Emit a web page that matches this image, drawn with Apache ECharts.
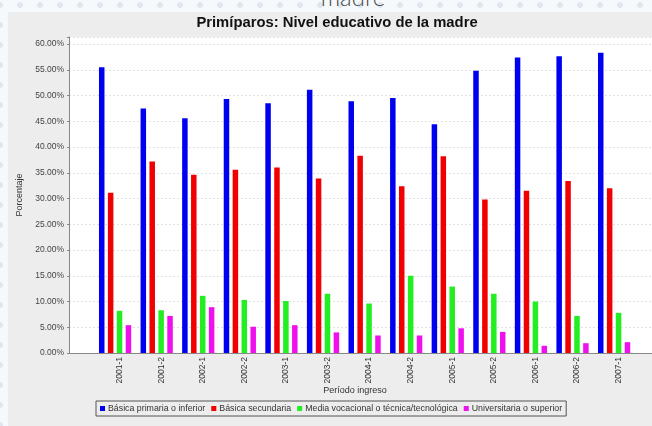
<!DOCTYPE html>
<html>
<head>
<meta charset="utf-8">
<script src="https://cdn.jsdelivr.net/npm/echarts@6/dist/echarts.min.js"></script>
<style>
  html, body { margin: 0; padding: 0; width: 652px; height: 426px; overflow: hidden; }
  body {
    position: relative;
    background-color: #f6f9fb;
    background-image: radial-gradient(circle, #dfe6ee 2.6px, rgba(255,255,255,0) 3.2px);
    background-size: 20px 20px;
    background-position: -10px -5px;
  }
  #heading {
    position: absolute; left: 253px; width: 200px; top: -15px;
    text-align: center; font-family: Lato, 'Open Sans', sans-serif; font-weight: 300;
    font-size: 24px; line-height: 24px; color: #4a4a4a; z-index: 1;
  }
  #panel { position: absolute; left: 8px; top: 12px; width: 700px; height: 430px; background: #ededed; z-index: 2; }
  #chart { position: absolute; left: 0; top: 0; width: 652px; height: 426px; z-index: 3; }
</style>
</head>
<body>
<div id="heading">madre</div>
<div id="panel"></div>
<div id="chart"></div>
<script>
// ---- data ----
const categories = ['2001-1','2001-2','2002-1','2002-2','2003-1','2003-2','2004-1','2004-2','2005-1','2005-2','2006-1','2006-2','2007-1'];
const basicaPrimaria   = [55.5, 47.5, 45.6, 49.3, 48.5, 51.1, 48.9, 49.5, 44.4, 54.8, 57.4, 57.6, 58.3];
const basicaSecundaria = [31.1, 37.2, 34.6, 35.6, 36.0, 33.9, 38.3, 32.4, 38.2, 29.8, 31.5, 33.4, 32.0];
const mediaVocacional  = [8.2, 8.3, 11.1, 10.3, 10.1, 11.5, 9.6, 15.0, 12.9, 11.5, 10.0, 7.2, 7.8];
const universitaria    = [5.4, 7.2, 8.9, 5.1, 5.4, 4.0, 3.4, 3.4, 4.8, 4.1, 1.4, 1.9, 2.1];
const seriesNames = ['Básica primaria o inferior', 'Básica secundaria', 'Media vocacional o técnica/tecnológica', 'Universitaria o superior'];
const yTickStep = 5;
const yMax = 61.36;
const titleText = 'Primíparos: Nivel educativo de la madre';
const xAxisTitle = 'Período ingreso';
const yAxisTitle = 'Porcentaje';

const FONT = "'Liberation Sans', Arial, sans-serif";
const colors = ['#0000f0', '#f00000', '#22ee22', '#ee11ee'];
const values = [basicaPrimaria, basicaSecundaria, mediaVocacional, universitaria];

const chart = echarts.init(document.getElementById('chart'), null, { renderer: 'canvas' });
chart.setOption({
  backgroundColor: 'transparent',
  animation: false,
  textStyle: { fontFamily: FONT },
  color: colors,
  graphic: [
    { type: 'text', x: 337, y: 23, style: { text: titleText, font: "bold 14.8px " + FONT, fill: '#111', textAlign: 'center', textVerticalAlign: 'middle' } },
    { type: 'text', x: 355, y: 391, style: { text: xAxisTitle, font: "9px " + FONT, fill: '#333', textAlign: 'center', textVerticalAlign: 'middle' } }
  ],
  legend: {
    left: 96, top: 401,
    data: seriesNames,
    icon: 'rect', itemWidth: 5, itemHeight: 5, itemGap: 6,
    borderColor: '#555', borderWidth: 1, padding: [3, 4],
    textStyle: { fontSize: 8.8, color: '#333', fontFamily: FONT, padding: [0, 0, 0, -2] }
  },
  grid: [
    { left: 69, right: 0, top: 37, bottom: 73, show: true, backgroundColor: '#ffffff', borderWidth: 0 },
    { left: 94.3, right: 17.1, top: 37, bottom: 73 }
  ],
  xAxis: [
    { gridIndex: 0, type: 'category', data: [''], axisLine: { show: true, lineStyle: { color: '#888', width: 1 } },
      axisTick: { show: false }, axisLabel: { show: false }, splitLine: { show: false } },
    { gridIndex: 1, type: 'category', data: categories, axisLine: { show: false }, axisTick: { show: false },
      axisLabel: { rotate: 90, verticalAlign: 'top', fontSize: 8.5, color: '#333', margin: 4, fontFamily: FONT } }
  ],
  yAxis: [
    { gridIndex: 0, type: 'value', min: 0, max: yMax, interval: yTickStep,
      name: yAxisTitle, nameLocation: 'middle', nameGap: 43, nameRotate: 90,
      nameTextStyle: { fontSize: 9, color: '#333', fontFamily: FONT },
      axisLine: { show: true, lineStyle: { color: '#888' } },
      axisTick: { show: true, length: 2, lineStyle: { color: '#888' } },
      axisLabel: { fontSize: 8.5, color: '#444', margin: 5, fontFamily: FONT,
        formatter: v => (Math.abs(v % yTickStep) < 1e-6 ? v.toFixed(2) + '%' : '') },
      splitLine: { show: true, lineStyle: { color: '#e2e2e2', width: 1, type: [2, 2] } } },
    { gridIndex: 1, type: 'value', min: 0, max: yMax, show: false, splitLine: { show: false } }
  ],
  series: seriesNames.map((name, i) => ({
    name, type: 'bar', xAxisIndex: 1, yAxisIndex: 1,
    data: values[i], barWidth: 5.5, barGap: '62%',
    itemStyle: { color: colors[i] }
  }))
});
</script>
</body>
</html>
